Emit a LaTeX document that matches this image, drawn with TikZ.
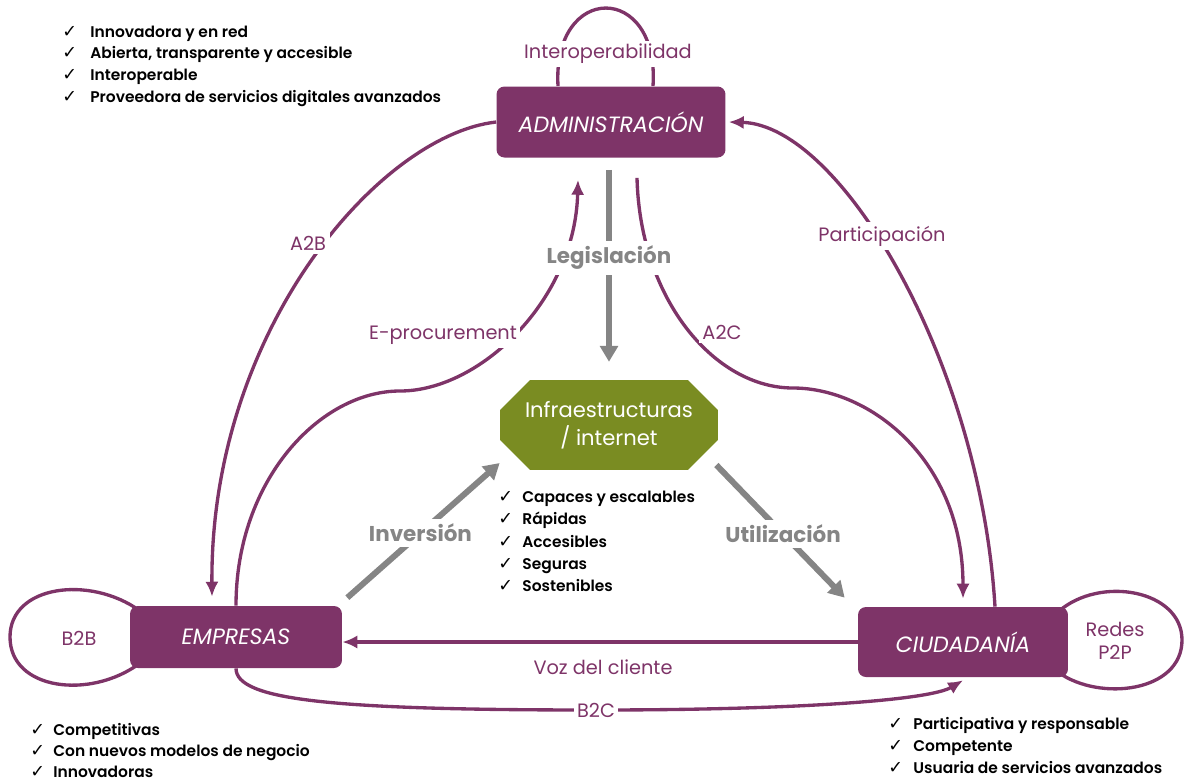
\documentclass[tikz,border=0pt]{standalone}
\usepackage{fontspec}
\setmainfont{Poppins}
\newfontfamily\chkfont{DejaVu Sans}
\newfontfamily\listfont{Poppins SemiBold}
\usepackage{tikz}
\usetikzlibrary{arrows.meta,shapes.misc,positioning}
\definecolor{plum}{HTML}{7E3468}
\definecolor{infragreen}{HTML}{7A8C22}
\definecolor{arrowgray}{HTML}{858585}
\pgfdeclarelayer{bg}
\pgfsetlayers{bg,main}
\tikzstyle{actor}=[rectangle,rounded corners=4.5pt,fill=plum,text=white,font=\fontsize{12.6}{14}\selectfont\itshape,inner sep=0pt]
\tikzstyle{infra}=[chamfered rectangle,chamfered rectangle xsep=0.18cm,chamfered rectangle ysep=0.42cm,fill=infragreen,text=white,align=center,font=\fontsize{12}{16}\selectfont,inner sep=0pt,minimum width=4.36cm,minimum height=1.68cm]
\tikzstyle{flow} = [draw,plum,line width=1.9pt,-{Latex[length=8.5pt,width=7.5pt]}]
\tikzstyle{selfloop} = [draw,plum,line width=1.9pt]
\tikzstyle{gflow} = [draw,arrowgray,line width=3.4pt,-{Triangle[length=9pt,width=10pt]}]
\tikzstyle{weight} = [fill=white,text=plum,inner sep=2pt,font=\fontsize{11}{13}\selectfont]
\tikzstyle{gweight} = [fill=white,text=arrowgray,inner sep=3pt,font=\fontsize{12.2}{14}\selectfont\bfseries]
\tikzstyle{check} = [anchor=base west,inner sep=0pt,font=\fontsize{8.8}{10}\selectfont\listfont]

\begin{document}
\begin{tikzpicture}[x=0.02cm,y=-0.02cm]
 \useasboundingbox (0,0) rectangle (1186,782);

 %actors
 \node[actor, minimum width=4.58cm, minimum height=1.42cm] (adm) at (611,122) {ADMINISTRACIÓN};
 \node[actor, minimum width=4.24cm, minimum height=1.24cm] (emp) at (236,637) {EMPRESAS};
 \node[actor, minimum width=4.2cm, minimum height=1.4cm] (ciu) at (963,642) {CIUDADANÍA};
 \node[infra] (inf) at (609,425) {Infraestructuras\\/ internet};

 %lists (baselines)
 \foreach \y/\name/\label in {37/a1/Innovadora y en red, 58/a2/{Abierta, transparente y accesible}, 80/a3/Interoperable, 102/a4/Proveedora de servicios digitales avanzados}
   \node[check] (\name) at (62,\y) {\makebox[0.56cm][l]{\chkfont\normalsize ✓}\label};
 \foreach \y/\name/\label in {502/i1/Capaces y escalables, 524/i2/Rápidas, 547/i3/Accesibles, 569/i4/Seguras, 591/i5/Sostenibles}
   \node[check] (\name) at (498,\y) {\makebox[0.48cm][l]{\chkfont\normalsize ✓}\label};
 \foreach \y/\name/\label in {735/e1/Competitivas, 756/e2/Con nuevos modelos de negocio, 777/e3/Innovadoras}
   \node[check] (\name) at (30,\y) {\makebox[0.46cm][l]{\chkfont\normalsize ✓}\label};
 \foreach \y/\name/\label in {729/c1/Participativa y responsable, 751/c2/Competente, 773/c3/Usuaria de servicios avanzados}
   \node[check] (\name) at (888,\y) {\makebox[0.5cm][l]{\chkfont\normalsize ✓}\label};

 \begin{pgfonlayer}{bg}
 %A2B
 \draw[flow] (adm.west) .. controls (380,135) and (210,330) .. ([xshift=-0.48cm,yshift=0.18cm]emp.north);
 %E-procurement
 \draw[flow] (emp.north) .. controls (236,480) and (320,391) .. (400,391) .. controls (480,391) and (575,300) .. ([xshift=-0.66cm,yshift=-0.44cm]adm.south);
 %A2C
 \draw[flow] ([xshift=0.52cm,yshift=-0.4cm]adm.south) .. controls (640,300) and (715,388) .. (793,388) .. controls (870,388) and (963,460) .. ([yshift=0.16cm]ciu.north);
 %Participacion
 \draw[flow] ([xshift=0.64cm]ciu.north) .. controls (980,360) and (840,125) .. ([xshift=0.06cm]adm.east);
 %Voz del cliente
 \draw[flow] (ciu.west) -- (ciu.west -| emp.east);
 %B2C
 \draw[flow] (emp.south) .. controls (236,700) and (330,710) .. (596,710) .. controls (800,710) and (930,700) .. ([yshift=-0.06cm]ciu.south);
 %loops
 \draw[selfloop] ([xshift=-1.06cm]adm.north) .. controls (552,-18) and (660,-18) .. ([xshift=0.84cm]adm.north);
 \draw[selfloop] ([xshift=0.2cm,yshift=-0.1cm]emp.north west) .. controls (90,575) and (10,585) .. (10,637) .. controls (10,690) and (90,700) .. ([xshift=0.2cm,yshift=0.1cm]emp.south west);
 \draw[selfloop] ([xshift=-0.2cm,yshift=-0.1cm]ciu.north east) .. controls (1100,575) and (1182,590) .. (1182,640) .. controls (1182,692) and (1100,702) .. ([xshift=-0.2cm,yshift=0.1cm]ciu.south east);
 %gray flows
 \draw[gflow, shorten <=0.24cm, shorten >=0.36cm] (adm.south -| inf.north) -- node[gweight,pos=0.45] (leg) {Legislación} (inf.north);
 \draw[gflow] ([xshift=0.1cm,yshift=0.16cm]emp.north east) -- node[gweight,pos=0.48] (inv) {Inversión} ([yshift=-0.76cm]inf.west);
 \draw[gflow] ([xshift=-0.04cm,yshift=-0.8cm]inf.east) -- node[gweight,pos=0.52] (uti) {Utilización} ([xshift=-0.26cm,yshift=0.18cm]ciu.north west);
 \end{pgfonlayer}

 %labels
 \node[weight] (lint) at (608,54) {Interoperabilidad};
 \node[weight] (la2b) at (308,243) {A2B};
 \node[weight] (lepr) at (443,335) {E-procurement};
 \node[weight] (la2c) at (722,332) {A2C};
 \node[weight] (lpar) at (882,236) {Participación};
 \node[weight, fill=none] (lvoz) at (603,667) {Voz del cliente};
 \node[weight] (lb2c) at (596,710) {B2C};
 \node[weight, fill=none] (lb2b) at (79,638) {B2B};
 \node[weight, fill=none, align=center] (lp2p) at (1115,641) {Redes\\P2P};

\end{tikzpicture}
\end{document}
